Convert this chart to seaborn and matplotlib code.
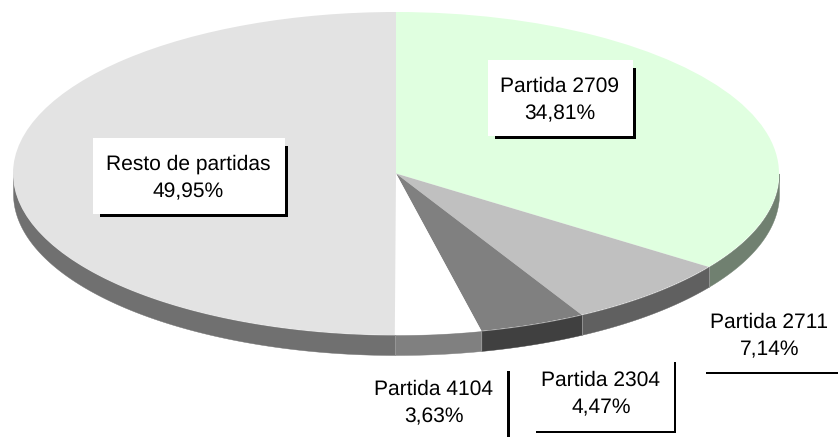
import numpy as np
import matplotlib
matplotlib.use('Agg')
import matplotlib.pyplot as plt
from matplotlib.patches import Rectangle
from matplotlib.transforms import Affine2D
import seaborn as sns

# Datos de la tarta
partidas = ['Partida 2709', 'Partida 2711', 'Partida 2304', 'Partida 4104', 'Resto de partidas']
porcentajes = [34.81, 7.14, 4.47, 3.63, 49.95]
textos_pct = ['34,81%', '7,14%', '4,47%', '3,63%', '49,95%']

# Colores
colores_sup = ['#E0FFE0', '#C0C0C0', '#808080', '#FFFFFF', '#E3E3E3']
colores_lado = ['#708070', '#606060', '#404040', '#808080', '#707070']

sns.set_theme(style='white')
plt.rcParams['font.family'] = ['Liberation Sans', 'DejaVu Sans']
plt.rcParams['text.hinting'] = 'no_hinting'
plt.rcParams['text.hinting_factor'] = 1

ANCHO, ALTO = 838, 437
CX, CY, RX, RY, GROSOR = 396, 173.5, 383, 161.5, 20
LINEA = 2.7

fig = plt.figure(figsize=(ANCHO / 100, ALTO / 100), dpi=100)
fig.patch.set_facecolor('white')
ax = fig.add_axes([0, 0, 1, 1])
pix = Affine2D().scale(1, -1).translate(0, ALTO)

# Lateral: cada porcion se prolonga hacia abajo
grosor = GROSOR / RY
acum = np.cumsum([0] + porcentajes) * 3.6
for ini, fin, color in zip(acum[:-1], acum[1:], colores_lado):
    a = max(ini, 90)
    b = min(fin, 270)
    if b <= a:
        continue
    t = np.radians(np.linspace(a, b, 200))
    ax.fill_between(np.sin(t), np.cos(t), np.cos(t) - grosor, color=color, linewidth=0.3)
    # costura clara entre porciones
    if ini >= 90:
        ax.plot([np.sin(t[0])] * 2, [np.cos(t[0]), np.cos(t[0]) - grosor], color='#9a9a9a', lw=0.6)

# Cara superior
ax.pie(porcentajes, colors=colores_sup, startangle=90, counterclock=False, radius=1,
       wedgeprops={'linewidth': 0})
ax.set_aspect('auto')
ax.set_xlim(-CX / RX, (ANCHO - CX) / RX)
ax.set_ylim(-(ALTO - CY) / RY, CY / RY)
ax.axis('off')


def barra(x, y, w, h):
    ax.add_patch(Rectangle((x, y), w, h, transform=pix, fc='black', ec='none', zorder=3))


def caja(x0, y0, x1, y1, inicio_x, inicio_y):
    # Fondo blanco con sombra negra en L
    ax.add_patch(Rectangle((x0, y0), x1 - x0, y1 - y0, transform=pix, fc='white', ec='none', zorder=3))
    barra(x1, inicio_y, LINEA, y1 - inicio_y + LINEA)
    barra(inicio_x, y1, x1 - inicio_x + LINEA, LINEA)


caja(488, 60, 633, 136, 495, 68)
caja(93, 138, 285, 214, 100, 146)

# Lineas sueltas de las etiquetas exteriores
barra(706, 371.5, 132, LINEA)
barra(673.5, 362, LINEA, 71)
barra(536, 430.7, 140, LINEA)
barra(507, 371, LINEA, 66)

pos_etiquetas = [(560, 91.7, 119), (769.5, 327.3, 355), (601, 386, 413.3), (434, 395, 422.3), (188.3, 170, 197.3)]
for nombre, pct, (x, y1, y2) in zip(partidas, textos_pct, pos_etiquetas):
    ax.text(x, y1, nombre, transform=pix, ha='center', va='baseline', fontsize=15.2, color='black', zorder=4)
    ax.text(x, y2, pct, transform=pix, ha='center', va='baseline', fontsize=15.2, color='black', zorder=4)

fig.savefig('out.png', dpi=100)
plt.close(fig)
